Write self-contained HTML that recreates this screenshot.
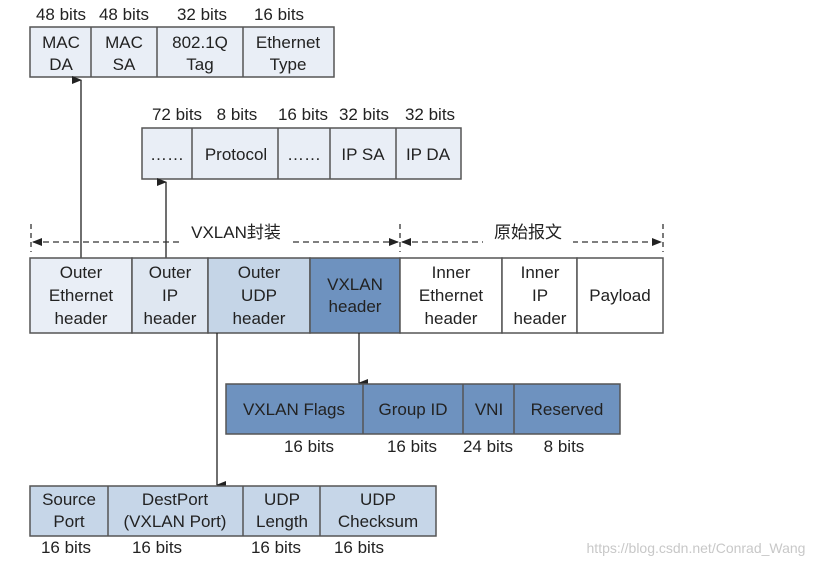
<!DOCTYPE html>
<html><head><meta charset="utf-8"><style>
html,body{margin:0;padding:0;background:#fff;}
svg{display:block;font-family:"Liberation Sans","Noto Sans CJK SC",sans-serif;font-size:17px;fill:#222;}
.b{stroke:#555;stroke-width:1.5;}
text{text-anchor:middle;fill:#222;}
</style></head><body>
<svg width="830" height="566" viewBox="0 0 830 566" xmlns="http://www.w3.org/2000/svg">
<defs><marker id="ar" markerWidth="8" markerHeight="10" refX="4" refY="9" orient="auto-start-reverse" markerUnits="userSpaceOnUse" viewBox="0 0 8 10"><path d="M0,0 L8,0 L4,10 z" fill="#222"/></marker>
<marker id="ah" markerWidth="10" markerHeight="8" refX="9" refY="4" orient="auto-start-reverse" markerUnits="userSpaceOnUse"><path d="M0,0 L10,4 L0,8 z" fill="#222"/></marker></defs>

<!-- top ethernet -->
<g>
<rect x="30" y="27" width="304" height="50" fill="#e9eef6" class="b"/>
<line x1="91" y1="27" x2="91" y2="77" class="b"/><line x1="157" y1="27" x2="157" y2="77" class="b"/><line x1="243" y1="27" x2="243" y2="77" class="b"/>
<text x="61" y="20">48 bits</text><text x="124" y="20">48 bits</text><text x="202" y="20">32 bits</text><text x="279" y="20">16 bits</text>
<text x="61" y="48">MAC</text><text x="61" y="70">DA</text>
<text x="124" y="48">MAC</text><text x="124" y="70">SA</text>
<text x="200" y="48">802.1Q</text><text x="200" y="70">Tag</text>
<text x="288" y="48">Ethernet</text><text x="288" y="70">Type</text>
</g>
<!-- IP -->
<g>
<rect x="142" y="128" width="319" height="51" fill="#e9eef6" class="b"/>
<line x1="192" y1="128" x2="192" y2="179" class="b"/><line x1="278" y1="128" x2="278" y2="179" class="b"/><line x1="330" y1="128" x2="330" y2="179" class="b"/><line x1="396" y1="128" x2="396" y2="179" class="b"/>
<text x="177" y="120">72 bits</text><text x="237" y="120">8 bits</text><text x="303" y="120">16 bits</text><text x="364" y="120">32 bits</text><text x="430" y="120">32 bits</text>
<text x="167" y="160">……</text><text x="236" y="160">Protocol</text><text x="304" y="160">……</text><text x="363" y="160">IP SA</text><text x="428" y="160">IP DA</text>
</g>
<!-- arrows up -->
<line x1="81" y1="258" x2="81" y2="80" stroke="#222" stroke-width="1.3" marker-end="url(#ar)"/>
<line x1="166" y1="258" x2="166" y2="182" stroke="#222" stroke-width="1.3" marker-end="url(#ar)"/>
<!-- dashed -->
<g stroke="#333" stroke-width="1.3" stroke-dasharray="5,4" fill="none">
<line x1="31" y1="224" x2="31" y2="252"/><line x1="400" y1="224" x2="400" y2="252"/><line x1="663" y1="224" x2="663" y2="252"/>
</g>
<line x1="33" y1="242" x2="398" y2="242" stroke="#333" stroke-width="1.3" stroke-dasharray="6,4" marker-start="url(#ah)" marker-end="url(#ah)"/>
<line x1="402" y1="242" x2="661" y2="242" stroke="#333" stroke-width="1.3" stroke-dasharray="6,4" marker-start="url(#ah)" marker-end="url(#ah)"/>
<rect x="180" y="222" width="110" height="22" fill="#fff"/><text x="236" y="238">VXLAN封装</text>
<rect x="483" y="222" width="90" height="22" fill="#fff"/><text x="528" y="238">原始报文</text>
<!-- main row -->
<g>
<rect x="30" y="258" width="102" height="75" fill="#e9eef6" class="b"/>
<rect x="132" y="258" width="76" height="75" fill="#dfe7f1" class="b"/>
<rect x="208" y="258" width="102" height="75" fill="#c5d5e7" class="b"/>
<rect x="310" y="258" width="90" height="75" fill="#6e92bf" class="b"/>
<rect x="400" y="258" width="102" height="75" fill="#fff" class="b"/>
<rect x="502" y="258" width="75" height="75" fill="#fff" class="b"/>
<rect x="577" y="258" width="86" height="75" fill="#fff" class="b"/>
<text x="81" y="278">Outer</text><text x="81" y="301">Ethernet</text><text x="81" y="324">header</text>
<text x="170" y="278">Outer</text><text x="170" y="301">IP</text><text x="170" y="324">header</text>
<text x="259" y="278">Outer</text><text x="259" y="301">UDP</text><text x="259" y="324">header</text>
<text x="355" y="290">VXLAN</text><text x="355" y="312">header</text>
<text x="451" y="278">Inner</text><text x="451" y="301">Ethernet</text><text x="451" y="324">header</text>
<text x="540" y="278">Inner</text><text x="540" y="301">IP</text><text x="540" y="324">header</text>
<text x="620" y="301">Payload</text>
</g>
<line x1="359" y1="333" x2="359" y2="383" stroke="#222" stroke-width="1.3" marker-end="url(#ar)"/>
<line x1="217" y1="333" x2="217" y2="485" stroke="#222" stroke-width="1.3" marker-end="url(#ar)"/>
<!-- vxlan fields -->
<g>
<rect x="226" y="384" width="394" height="50" fill="#6e92bf" class="b"/>
<line x1="363" y1="384" x2="363" y2="434" class="b"/><line x1="463" y1="384" x2="463" y2="434" class="b"/><line x1="514" y1="384" x2="514" y2="434" class="b"/>
<text x="294" y="415">VXLAN Flags</text><text x="413" y="415">Group ID</text><text x="489" y="415">VNI</text><text x="567" y="415">Reserved</text>
<text x="309" y="452">16 bits</text><text x="412" y="452">16 bits</text><text x="488" y="452">24 bits</text><text x="564" y="452">8 bits</text>
</g>
<!-- udp -->
<g>
<rect x="30" y="486" width="406" height="50" fill="#c6d6e8" class="b"/>
<line x1="108" y1="486" x2="108" y2="536" class="b"/><line x1="243" y1="486" x2="243" y2="536" class="b"/><line x1="320" y1="486" x2="320" y2="536" class="b"/>
<text x="69" y="505">Source</text><text x="69" y="527">Port</text>
<text x="175" y="505">DestPort</text><text x="175" y="527">(VXLAN Port)</text>
<text x="282" y="505">UDP</text><text x="282" y="527">Length</text>
<text x="378" y="505">UDP</text><text x="378" y="527">Checksum</text>
<text x="66" y="553">16 bits</text><text x="157" y="553">16 bits</text><text x="276" y="553">16 bits</text><text x="359" y="553">16 bits</text>
</g>
<text x="696" y="553" style="font-size:14px;fill:#c8c8c8">https://blog.csdn.net/Conrad_Wang</text>
</svg>
</body></html>
